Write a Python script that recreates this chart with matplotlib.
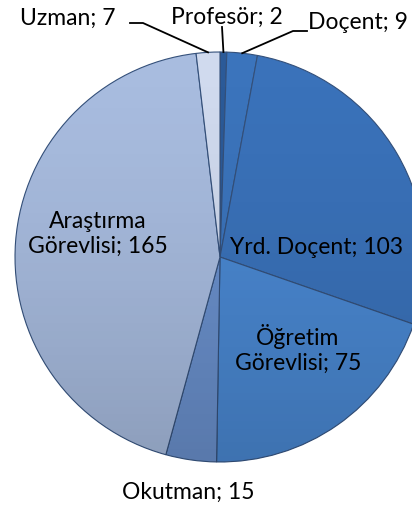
import numpy as np
import matplotlib.pyplot as plt
from matplotlib.patches import Circle

labels = ["Profesör", "Doçent", "Yrd. Doçent", "Öğretim\nGörevlisi", "Okutman",
          "Araştırma\nGörevlisi", "Uzman"]
values = [2, 9, 103, 75, 15, 165, 7]
colors = ["#2b5a98", "#3b74bc", "#3a72ba", "#4a88d2", "#6a90cc", "#a8bcdf", "#d0daee"]

W, H = 412, 506
CX, CY, R = 220, 258, 205


def px(x, y):
    # pixel position in the picture -> data coords of the pie axes
    return (x - CX) / R, (CY - y) / R


plt.rcParams['font.family'] = ['Lato', 'DejaVu Sans']
fig = plt.figure(figsize=(W / 100, H / 100), dpi=100)
ax = fig.add_axes([0, 0, 1, 1])

wedges, _ = ax.pie(values, colors=colors, startangle=90, counterclock=False,
                   radius=1, wedgeprops=dict(edgecolor="#34507a", linewidth=0.8))

# soft darkening towards the bottom, like the original 3-D style
grad = np.zeros((200, 2, 4))
a = np.linspace(0, 1, 200) ** 1.5
grad[..., 3] = (0.16 * a)[:, None]
im = ax.imshow(grad, extent=(-1, 1, -1, 1), origin="upper", zorder=3)
im.set_clip_path(Circle((0, 0), 1, transform=ax.transData))

ax.set_xlim(-CX / R, (W - CX) / R)
ax.set_ylim(-(H - CY) / R, CY / R)
ax.set_aspect("equal")
ax.axis("off")

fs = 16.5
txt = [f"{l}; {v}" for l, v in zip(labels, values)]

# labels inside the slices
ax.text(*px(316, 248), txt[2], ha="center", va="center", fontsize=fs, zorder=5)
ax.text(*px(298, 349), txt[3], ha="center", va="center", fontsize=fs, linespacing=1.25, zorder=5)
ax.text(*px(98, 234), txt[5], ha="center", va="center", fontsize=fs, linespacing=1.25, zorder=5)

# labels outside
ax.text(*px(188, 492), txt[4], ha="center", va="center", fontsize=fs)
ax.text(*px(227, 17), txt[0], ha="center", va="center", fontsize=fs)
ax.text(*px(358, 22), txt[1], ha="center", va="center", fontsize=fs)
ax.text(*px(68, 18), txt[6], ha="center", va="center", fontsize=fs)

# leader lines, ending at the middle of each small slice
for w, path in [(wedges[0], [px(222, 28)]),
                (wedges[1], [px(307, 32), px(293, 32)]),
                (wedges[6], [px(130, 24), px(143, 24)])]:
    t = np.deg2rad((w.theta1 + w.theta2) / 2)
    pts = path + [(np.cos(t), np.sin(t))]
    xs, ys = zip(*pts)
    ax.plot(xs, ys, color="black", lw=1.3, zorder=6)

fig.savefig("out.png", dpi=100)
